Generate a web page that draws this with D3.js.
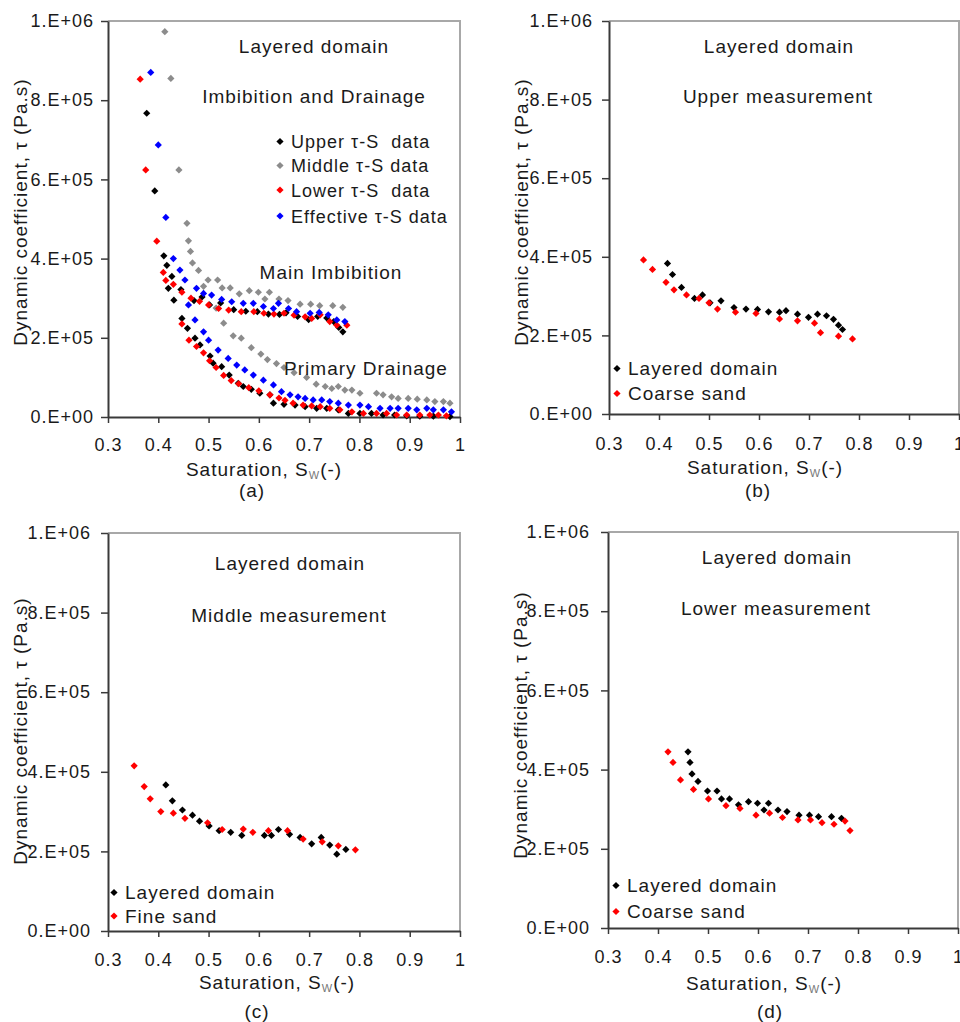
<!DOCTYPE html>
<html>
<head>
<meta charset="utf-8">
<script src="https://cdn.jsdelivr.net/npm/d3@7"></script>
<style>
  body { margin: 0; background: #fff; }
  svg text { font-family: "Liberation Sans", Arial, sans-serif; fill: #1a1a1a; }
</style>
</head>
<body>
<div id="chart"></div>
<script>
/* ============================================================
   Dynamic coefficient vs saturation — layered domain (4 panels)
   ============================================================ */

// ---------- ejes compartidos ----------
const X_TICKS = [0.3, 0.4, 0.5, 0.6, 0.7, 0.8, 0.9, 1];
const X_TICK_LABELS = ['0.3', '0.4', '0.5', '0.6', '0.7', '0.8', '0.9', '1'];
const Y_TICKS = [0, 2e5, 4e5, 6e5, 8e5, 1e6];
const Y_TICK_LABELS = ['0.E+00', '2.E+05', '4.E+05', '6.E+05', '8.E+05', '1.E+06'];

// ---------- (a) imbibición y drenaje: [S, tau] ----------
const upperImb = [[0.417,3.83e5],[0.427,3.55e5],[0.445,3.22e5],[0.471,2.94e5],[0.487,3.03e5],[0.502,2.83e5],[0.524,2.88e5],[0.55,2.71e5],[0.574,2.67e5],[0.597,2.66e5],[0.619,2.6e5],[0.641,2.59e5],[0.654,2.63e5],[0.677,2.54e5],[0.699,2.46e5],[0.717,2.54e5],[0.735,2.5e5],[0.749,2.41e5],[0.759,2.26e5],[0.767,2.15e5]];
const upperDrain = [[0.377,7.67e5],[0.393,5.71e5],[0.411,4.07e5],[0.42,3.25e5],[0.431,2.95e5],[0.447,2.49e5],[0.458,2.24e5],[0.473,1.99e5],[0.483,1.82e5],[0.503,1.54e5],[0.509,1.36e5],[0.526,1.27e5],[0.541,1.06e5],[0.559,0.85e5],[0.569,0.77e5],[0.585,0.7e5],[0.602,0.6e5],[0.622,0.56e5],[0.629,0.35e5],[0.65,0.32e5],[0.672,0.3e5],[0.692,0.26e5],[0.715,0.22e5],[0.735,0.22e5],[0.758,0.18e5],[0.778,0.09e5],[0.801,0.09e5],[0.824,0.09e5],[0.847,0.05e5],[0.87,0.05e5],[0.894,0.03e5],[0.92,0.02e5],[0.947,0.02e5],[0.98,0.01e5]];
const middleImb = [[0.46,4.45e5],[0.464,4.18e5],[0.468,3.89e5],[0.48,3.7e5],[0.499,3.46e5],[0.518,3.46e5],[0.527,3.26e5],[0.543,3.26e5],[0.561,3.11e5],[0.581,3.19e5],[0.599,3.15e5],[0.612,2.98e5],[0.621,3.15e5],[0.64,2.98e5],[0.658,2.94e5],[0.682,2.85e5],[0.703,2.85e5],[0.721,2.81e5],[0.747,2.81e5],[0.767,2.77e5]];
const middleDrain = [[0.413,9.73e5],[0.425,8.55e5],[0.441,6.24e5],[0.457,4.89e5],[0.49,3.3e5],[0.515,2.75e5],[0.53,2.37e5],[0.549,2.05e5],[0.565,1.99e5],[0.585,1.75e5],[0.604,1.59e5],[0.617,1.45e5],[0.635,1.35e5],[0.65,1.25e5],[0.67,1.12e5],[0.695,1.0e5],[0.714,0.83e5],[0.732,0.77e5],[0.745,0.72e5],[0.758,0.77e5],[0.771,0.68e5],[0.785,0.68e5],[0.801,0.6e5],[0.834,0.6e5],[0.847,0.56e5],[0.864,0.51e5],[0.877,0.47e5],[0.897,0.47e5],[0.915,0.45e5],[0.934,0.43e5],[0.95,0.39e5],[0.967,0.39e5],[0.98,0.35e5]];
const lowerImb = [[0.41,3.65e5],[0.415,3.45e5],[0.43,3.35e5],[0.447,3.15e5],[0.465,3.0e5],[0.482,2.92e5],[0.5,2.83e5],[0.52,2.74e5],[0.54,2.7e5],[0.565,2.66e5],[0.59,2.66e5],[0.61,2.62e5],[0.63,2.6e5],[0.65,2.62e5],[0.67,2.57e5],[0.692,2.53e5],[0.705,2.49e5],[0.722,2.58e5],[0.741,2.41e5],[0.755,2.32e5],[0.775,2.32e5]];
const lowerDrain = [[0.364,8.53e5],[0.375,6.24e5],[0.397,4.44e5],[0.447,2.35e5],[0.461,1.94e5],[0.476,1.78e5],[0.49,1.62e5],[0.502,1.42e5],[0.515,1.25e5],[0.53,1.05e5],[0.545,0.92e5],[0.56,0.84e5],[0.58,0.74e5],[0.6,0.66e5],[0.622,0.56e5],[0.64,0.48e5],[0.652,0.42e5],[0.668,0.35e5],[0.688,0.3e5],[0.705,0.28e5],[0.722,0.26e5],[0.741,0.22e5],[0.761,0.18e5],[0.785,0.13e5],[0.808,0.09e5],[0.834,0.09e5],[0.854,0.09e5],[0.874,0.05e5],[0.894,0.05e5],[0.92,0.05e5],[0.94,0.05e5],[0.957,0.05e5],[0.973,0.03e5]];
const effImb = [[0.43,4.0e5],[0.443,3.71e5],[0.453,3.46e5],[0.476,3.25e5],[0.49,3.12e5],[0.506,3.08e5],[0.526,2.97e5],[0.546,2.91e5],[0.569,2.87e5],[0.589,2.87e5],[0.609,2.79e5],[0.629,2.74e5],[0.639,2.87e5],[0.659,2.74e5],[0.675,2.66e5],[0.702,2.62e5],[0.72,2.64e5],[0.738,2.58e5],[0.755,2.45e5],[0.771,2.41e5]];
const effDrain = [[0.385,8.7e5],[0.4,6.87e5],[0.415,5.04e5],[0.46,2.83e5],[0.473,2.45e5],[0.49,2.15e5],[0.5,1.94e5],[0.519,1.69e5],[0.539,1.48e5],[0.556,1.31e5],[0.572,1.19e5],[0.589,1.06e5],[0.609,0.93e5],[0.629,0.81e5],[0.645,0.64e5],[0.662,0.56e5],[0.678,0.51e5],[0.692,0.47e5],[0.708,0.43e5],[0.725,0.43e5],[0.741,0.39e5],[0.758,0.35e5],[0.778,0.3e5],[0.801,0.3e5],[0.818,0.26e5],[0.841,0.22e5],[0.861,0.22e5],[0.877,0.22e5],[0.897,0.22e5],[0.914,0.18e5],[0.934,0.22e5],[0.947,0.18e5],[0.967,0.18e5],[0.983,0.13e5]];

// ---------- (b) medición superior ----------
const bLayered = [[0.417,3.83e5],[0.427,3.55e5],[0.445,3.22e5],[0.471,2.94e5],[0.487,3.03e5],[0.502,2.83e5],[0.524,2.88e5],[0.55,2.71e5],[0.574,2.67e5],[0.597,2.66e5],[0.619,2.6e5],[0.641,2.59e5],[0.654,2.63e5],[0.677,2.54e5],[0.699,2.46e5],[0.717,2.54e5],[0.735,2.5e5],[0.749,2.41e5],[0.759,2.26e5],[0.767,2.15e5]];
const bCoarse = [[0.369,3.92e5],[0.387,3.68e5],[0.414,3.35e5],[0.43,3.16e5],[0.455,3.03e5],[0.48,2.94e5],[0.5,2.83e5],[0.517,2.67e5],[0.553,2.59e5],[0.594,2.56e5],[0.641,2.42e5],[0.677,2.37e5],[0.711,2.31e5],[0.723,2.07e5],[0.759,1.98e5],[0.787,1.91e5]];

// ---------- (c) medición media ----------
const cLayered = [[0.415,3.67e5],[0.428,3.27e5],[0.448,3.04e5],[0.468,2.91e5],[0.482,2.76e5],[0.501,2.64e5],[0.521,2.52e5],[0.544,2.48e5],[0.566,2.4e5],[0.611,2.4e5],[0.625,2.4e5],[0.639,2.55e5],[0.661,2.43e5],[0.682,2.35e5],[0.705,2.19e5],[0.724,2.35e5],[0.741,2.16e5],[0.755,1.93e5],[0.773,2.05e5]];
const cFine = [[0.352,4.15e5],[0.372,3.63e5],[0.384,3.32e5],[0.405,3.0e5],[0.43,2.96e5],[0.453,2.83e5],[0.498,2.72e5],[0.527,2.55e5],[0.569,2.56e5],[0.588,2.48e5],[0.619,2.52e5],[0.657,2.52e5],[0.688,2.31e5],[0.726,2.24e5],[0.758,2.14e5],[0.792,2.04e5]];

// ---------- (d) medición inferior ----------
const dLayered = [[0.46,4.45e5],[0.464,4.18e5],[0.468,3.89e5],[0.48,3.7e5],[0.499,3.46e5],[0.518,3.46e5],[0.527,3.26e5],[0.543,3.26e5],[0.561,3.11e5],[0.581,3.19e5],[0.599,3.15e5],[0.612,2.98e5],[0.621,3.15e5],[0.64,2.98e5],[0.658,2.94e5],[0.682,2.85e5],[0.703,2.85e5],[0.721,2.81e5],[0.747,2.81e5],[0.767,2.77e5]];
const dCoarse = [[0.42,4.45e5],[0.43,4.18e5],[0.445,3.74e5],[0.471,3.5e5],[0.501,3.26e5],[0.536,3.09e5],[0.564,3.02e5],[0.596,2.85e5],[0.623,2.9e5],[0.649,2.79e5],[0.68,2.73e5],[0.705,2.73e5],[0.728,2.66e5],[0.752,2.62e5],[0.774,2.7e5],[0.784,2.46e5]];

// ---------- colores ----------
const COLORS = {
  black: '#000000',
  gray : '#8c8c8c',
  red  : '#ff0000',
  blue : '#0000ff',
  axis : '#3a3a3a',
  frame: '#a8a8a8'
};

// ---------- layout de cada panel (pixeles) ----------
const PANELS = [
  {
    tag: '(a)', x0: 108, x1: 460, yTop: 21, yBot: 417,
    yTitle: [27, 212], tickDx: 14, tickBase: 34, xTitle: [264, 476], tagPos: [252, 497],
    notes: [['Layered domain', 314, 53], ['Imbibition and Drainage', 314, 103],
            ['Main Imbibition', 331, 279], ['Primary Drainage', 366, 375]],
    legend: { x: 280, tx: 291, rows: [148, 172, 196.5, 222.5], size: 18,
      items: [['Upper τ-S  data', COLORS.black], ['Middle τ-S data', COLORS.gray],
              ['Lower τ-S  data', COLORS.red], ['Effective τ-S data', COLORS.blue]] },
    series: [[upperImb, COLORS.black], [upperDrain, COLORS.black],
             [middleImb, COLORS.gray], [middleDrain, COLORS.gray],
             [lowerImb, COLORS.red], [lowerDrain, COLORS.red],
             [effImb, COLORS.blue], [effDrain, COLORS.blue]]
  },
  {
    tag: '(b)', x0: 609, x1: 959, yTop: 21, yBot: 414,
    yTitle: [528, 212], tickDx: 16, tickBase: 36, xTitle: [765, 474], tagPos: [758, 497],
    notes: [['Layered domain', 779, 53], ['Upper measurement', 778, 103]],
    legend: { x: 617, tx: 628, rows: [375, 400], size: 19,
      items: [['Layered domain', COLORS.black], ['Coarse sand', COLORS.red]] },
    series: [[bLayered, COLORS.black], [bCoarse, COLORS.red]]
  },
  {
    tag: '(c)', x0: 108, x1: 460, yTop: 533, yBot: 931,
    yTitle: [27, 731], tickDx: 17, tickBase: 35, xTitle: [277, 989], tagPos: [257, 1018],
    notes: [['Layered domain', 290, 570], ['Middle measurement', 289, 621.5]],
    legend: { x: 114, tx: 125, rows: [899, 922.5], size: 19,
      items: [['Layered domain', COLORS.black], ['Fine sand', COLORS.red]] },
    series: [[cLayered, COLORS.black], [cFine, COLORS.red]]
  },
  {
    tag: '(d)', x0: 608, x1: 958, yTop: 532, yBot: 928,
    yTitle: [527, 725], tickDx: 18, tickBase: 35, xTitle: [764, 990], tagPos: [770, 1018],
    notes: [['Layered domain', 777, 564], ['Lower measurement', 776, 615]],
    legend: { x: 616, tx: 627, rows: [892, 918], size: 19,
      items: [['Layered domain', COLORS.black], ['Coarse sand', COLORS.red]] },
    series: [[dLayered, COLORS.black], [dCoarse, COLORS.red]]
  }
];

const svg = d3.select('#chart').append('svg')
  .attr('width', 960)
  .attr('height', 1022);

// marcador tipo rombo (cuadrado girado 45°)
const diamond = d3.symbol().type(d3.symbolSquare).size(26);

function addText(g, str, x, y, size, anchor) {
  return g.append('text')
    .attr('x', x)
    .attr('y', y)
    .attr('text-anchor', anchor || 'middle')
    .style('font-size', size + 'px')
    .style('letter-spacing', '1px')
    .style('white-space', 'pre')
    .text(str);
}

PANELS.forEach(function(p) {
  const g = svg.append('g');

  const x = d3.scaleLinear().domain([0.3, 1]).range([p.x0, p.x1]);
  const y = d3.scaleLinear().domain([0, 1e6]).range([p.yBot, p.yTop]);

  // marco superior y derecho (gris)
  g.append('path')
    .attr('d', `M${p.x0},${p.yTop}H${p.x1}V${p.yBot}`)
    .attr('fill', 'none')
    .attr('stroke', COLORS.frame)
    .attr('stroke-width', 2);

  // eje Y
  const yAxis = g.append('g')
    .attr('transform', `translate(${p.x0},0)`)
    .call(d3.axisLeft(y).tickValues(Y_TICKS)
      .tickFormat((d, i) => Y_TICK_LABELS[i]).tickSize(7).tickSizeOuter(0));
  yAxis.select('.domain').attr('stroke', COLORS.axis).attr('stroke-width', 2);
  yAxis.selectAll('line').attr('stroke', COLORS.axis).attr('stroke-width', 1.5);
  yAxis.selectAll('text')
    .attr('x', -p.tickDx)
    .attr('fill', '#1a1a1a')
    .style('font-family', '"Liberation Sans", Arial, sans-serif')
    .style('font-size', '18px')
    .style('letter-spacing', '1px');

  // eje X
  const xAxis = g.append('g')
    .attr('transform', `translate(0,${p.yBot})`)
    .call(d3.axisBottom(x).tickValues(X_TICKS)
      .tickFormat((d, i) => X_TICK_LABELS[i]).tickSize(6).tickSizeOuter(0));
  xAxis.select('.domain').attr('stroke', COLORS.axis).attr('stroke-width', 2);
  xAxis.selectAll('line').attr('stroke', COLORS.axis).attr('stroke-width', 1.5);
  xAxis.selectAll('text')
    .attr('y', p.tickBase)
    .attr('dy', null)
    .attr('fill', '#1a1a1a')
    .style('font-family', '"Liberation Sans", Arial, sans-serif')
    .style('font-size', '18px')
    .style('letter-spacing', '1px');

  // puntos
  p.series.forEach(function(s) {
    g.append('g').selectAll('path')
      .data(s[0])
      .join('path')
        .attr('d', diamond)
        .attr('transform', d => `translate(${x(d[0])},${y(d[1])}) rotate(45)`)
        .attr('fill', s[1]);
  });

  // textos internos
  p.notes.forEach(n => addText(g, n[0], n[1], n[2], 19));

  // leyenda
  p.legend.items.forEach(function(item, i) {
    const cy = p.legend.rows[i] - 6.5;
    g.append('path')
      .attr('d', diamond)
      .attr('transform', `translate(${p.legend.x},${cy}) rotate(45)`)
      .attr('fill', item[1]);
    addText(g, item[0], p.legend.tx, p.legend.rows[i], p.legend.size, 'start');
  });

  // título eje Y
  addText(g, 'Dynamic coefficient, τ (Pa.s)', 0, 0, 19)
    .attr('transform', `translate(${p.yTitle[0]},${p.yTitle[1]}) rotate(-90)`);

  // título eje X con subíndice
  const xt = addText(g, 'Saturation, S', p.xTitle[0], p.xTitle[1], 19);
  xt.append('tspan').attr('dy', 3).style('font-size', '11px').attr('fill', '#777').text('W');
  xt.append('tspan').attr('dy', -3).text('(-)');

  // etiqueta del panel
  addText(g, p.tag, p.tagPos[0], p.tagPos[1], 19);
});
</script>
</body>
</html>
